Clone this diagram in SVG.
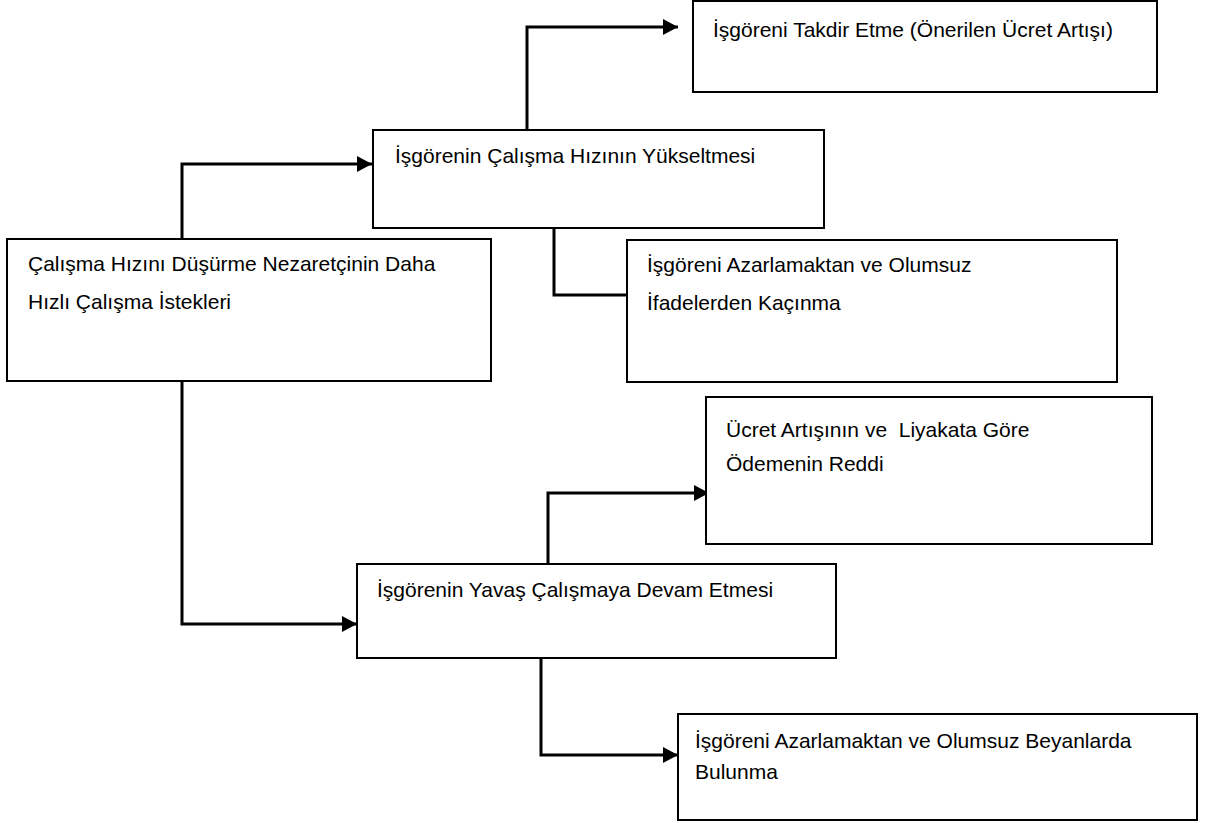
<svg xmlns="http://www.w3.org/2000/svg" width="1216" height="823" viewBox="0 0 1216 823">
<style>
.box{fill:#ffffff;stroke:#000000;stroke-width:2}
.lbl{font-family:"Liberation Sans",Arial,sans-serif;font-size:21px;fill:#000000}
.con{fill:none;stroke:#000000;stroke-width:3}
</style>
<defs>
<marker id="ah" markerUnits="userSpaceOnUse" markerWidth="15" markerHeight="16" refX="15" refY="8" orient="auto">
<path d="M0,0 L15,8 L0,16 z" fill="#000000"/>
</marker>
</defs>
<rect width="1216" height="823" fill="#ffffff"/>
<g id="connectors">
<path class="con" d="M527,130 V27 H678" marker-end="url(#ah)"/>
<path class="con" d="M182,239 V164 H372" marker-end="url(#ah)"/>
<path class="con" d="M554,228 V295 H627"/>
<path class="con" d="M182,381 V624 H357" marker-end="url(#ah)"/>
<path class="con" d="M548,564 V493 H709" marker-end="url(#ah)"/>
<path class="con" d="M541,658 V755 H678" marker-end="url(#ah)"/>
</g>
<g id="node-takdir">
<rect class="box" x="693" y="1" width="464" height="91"/>
<text class="lbl" x="713" y="37">İşgöreni Takdir Etme (Önerilen Ücret Artışı)</text>
</g>
<g id="node-yukseltme">
<rect class="box" x="373" y="130" width="451" height="98"/>
<text class="lbl" x="395" y="163">İşgörenin Çalışma Hızının Yükseltmesi</text>
</g>
<g id="node-dusurme">
<rect class="box" x="7" y="239" width="484" height="142"/>
<text class="lbl" x="28" y="271">Çalışma Hızını Düşürme Nezaretçinin Daha</text>
<text class="lbl" x="28" y="309">Hızlı Çalışma İstekleri</text>
</g>
<g id="node-kacinma">
<rect class="box" x="627" y="240" width="490" height="142"/>
<text class="lbl" x="647" y="272">İşgöreni Azarlamaktan ve Olumsuz</text>
<text class="lbl" x="647" y="310">İfadelerden Kaçınma</text>
</g>
<g id="node-red">
<rect class="box" x="706" y="397" width="446" height="147"/>
<text class="lbl" x="726" y="437" xml:space="preserve">Ücret Artışının ve  Liyakata Göre</text>
<text class="lbl" x="726" y="471">Ödemenin Reddi</text>
</g>
<g id="node-yavas">
<rect class="box" x="357" y="564" width="479" height="94"/>
<text class="lbl" x="377" y="597">İşgörenin Yavaş Çalışmaya Devam Etmesi</text>
</g>
<g id="node-beyan">
<rect class="box" x="678" y="714" width="519" height="106"/>
<text class="lbl" x="695" y="748">İşgöreni Azarlamaktan ve Olumsuz Beyanlarda</text>
<text class="lbl" x="695" y="779">Bulunma</text>
</g>
</svg>
